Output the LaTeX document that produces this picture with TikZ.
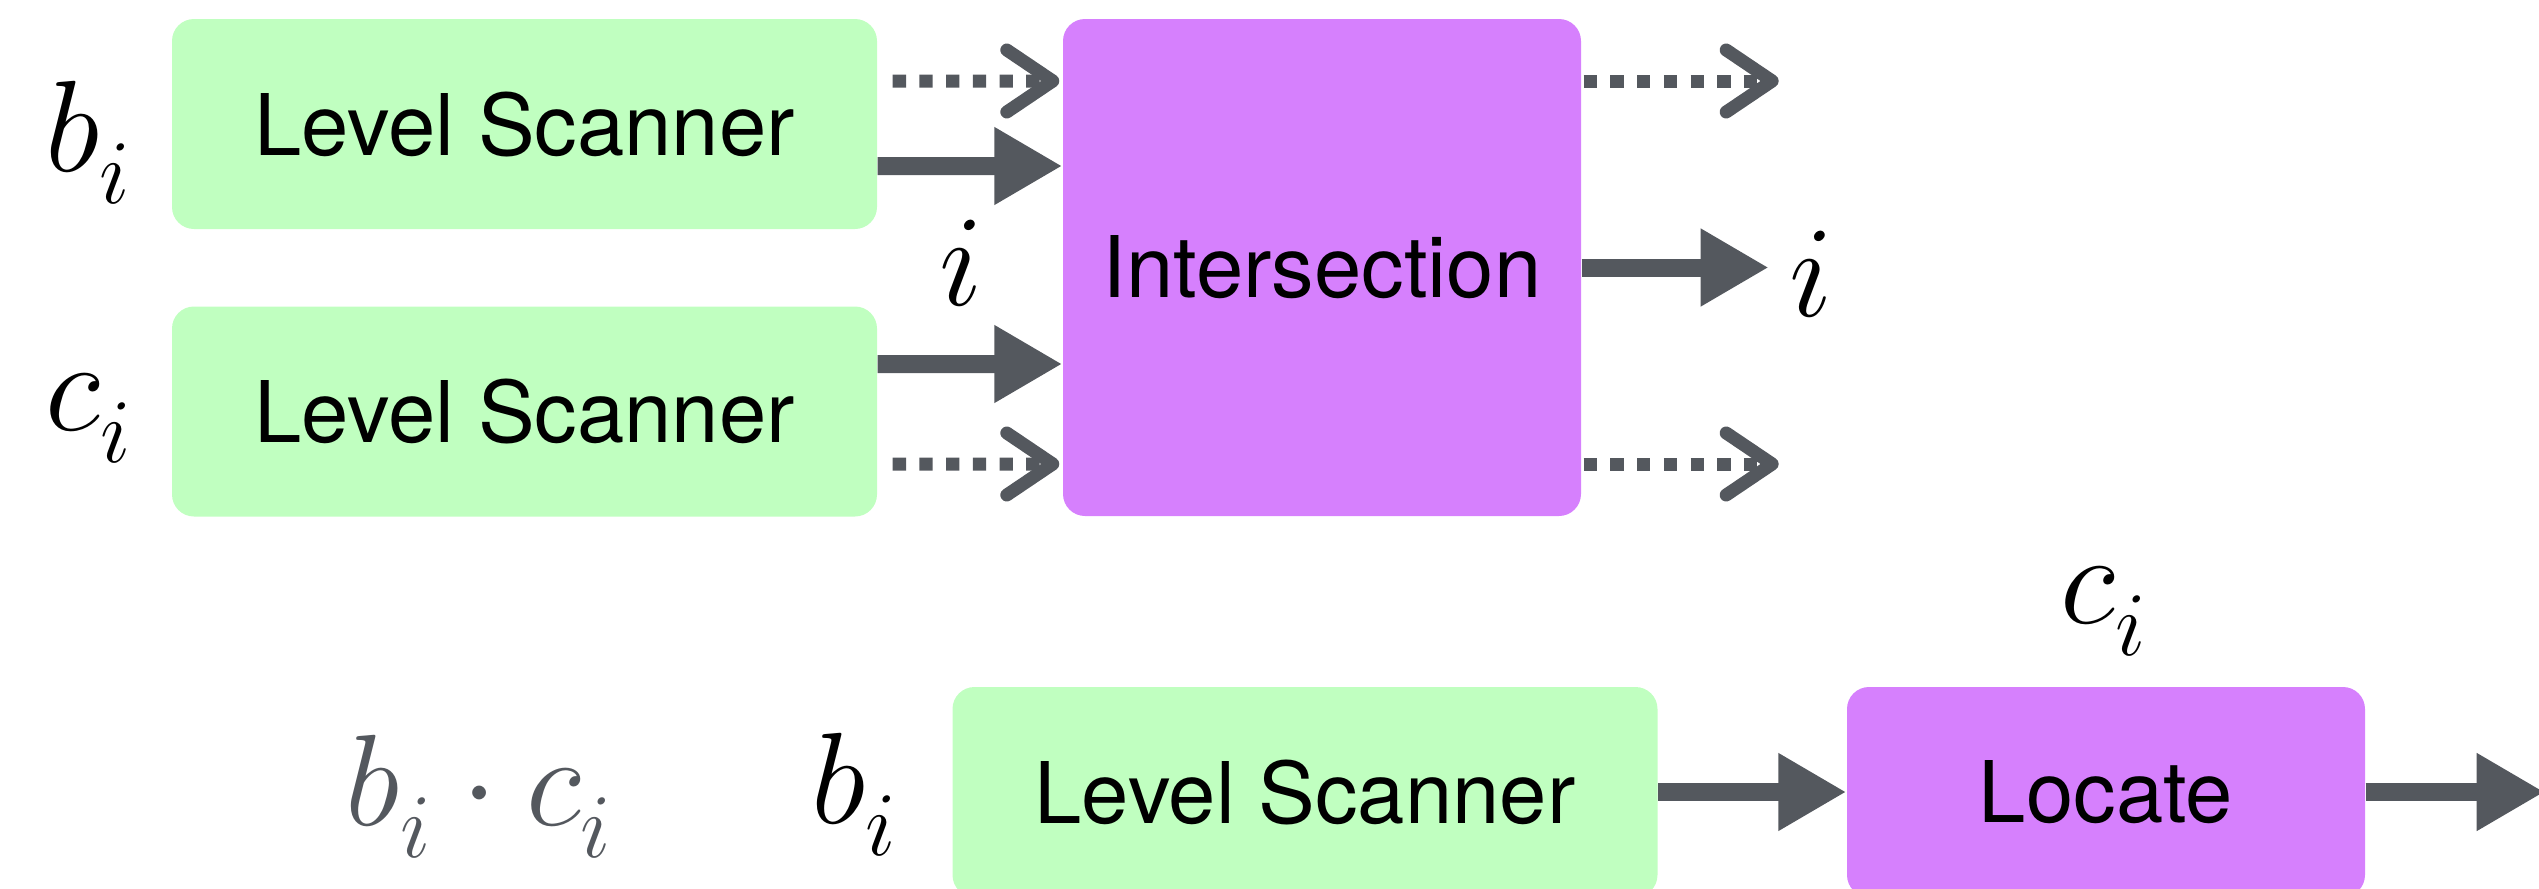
\RequirePackage{fix-cm}
\documentclass[tikz,border=0pt]{standalone}
\usepackage{fontspec}
\setmainfont{TeX Gyre Heros}
\usetikzlibrary{positioning,arrows.meta}
\definecolor{scangreen}{RGB}{192,255,192}
\definecolor{oppurple}{RGB}{214,128,253}
\definecolor{wiregray}{RGB}{84,88,94}
\newcommand{\lblsize}{\fontsize{37}{44}\selectfont}
\newcommand{\dn}[1]{_{\lower1.3mm\hbox{$\scriptstyle #1$}}}
\tikzset{
  block/.style={rounded corners=2.2mm, inner sep=0pt, minimum height=2.1cm, font=\fontsize{24.2}{29}\selectfont},
  scanner/.style={block, fill=scangreen, minimum width=7.05cm},
  op/.style={block, fill=oppurple, minimum width=5.18cm},
  flow/.style={wiregray, line width=1.8mm, -{Triangle[length=6.8mm,width=7.3mm]}},
  side/.style={wiregray, line width=1.3mm, dash pattern=on 1.33mm off 1.34mm, -{Straight Barb[length=4.6mm,width=6.2mm,round]}},
  var/.style={font=\lblsize, inner sep=0pt, anchor=base}
}

\begin{document}
\begin{tikzpicture}
\useasboundingbox (0,0) rectangle (25.39,8.88);

\node[scanner] (scanB) at (5.245,7.64) {Level Scanner};
\node[scanner] (scanC) at (5.245,4.765) {Level Scanner};
\node[op, minimum height=4.97cm] (inter) at (13.22,6.205) {Intersection};
\node[var] (lblB) at (0.89,7.17) {$b\dn{i}$};
\node[var] (lblC) at (0.89,4.58) {$c\dn{i}$};
\node[var] (lblMid) at (9.61,5.83) {$i$};
\node[var] (lblOut) at (18.11,5.72) {$i$};

\draw[side] ([xshift=1.5mm,yshift=4.3mm]scanB.east) -- ([xshift=-0.3mm,yshift=18.65mm]inter.west);
\draw[flow] ([yshift=-4.2mm]scanB.east) -- ([yshift=10.15mm]inter.west);
\draw[flow] ([yshift=4.75mm]scanC.east) -- ([yshift=-9.65mm]inter.west);
\draw[side] ([xshift=1.5mm,yshift=-5.25mm]scanC.east) -- ([xshift=-0.3mm,yshift=-19.65mm]inter.west);

\draw[side] ([xshift=0.2mm,yshift=18.65mm]inter.east) -- ([xshift=19.7mm,yshift=18.65mm]inter.east);
\draw[flow] (inter.east) -- ([xshift=18.7mm]inter.east);
\draw[side] ([xshift=0.2mm,yshift=-19.65mm]inter.east) -- ([xshift=19.7mm,yshift=-19.65mm]inter.east);

% bottom row
\node[var, wiregray] (prod) at (4.795,0.63) {$b\dn{i}\cdot c\dn{i}$};
\node[var] (lblB2) at (8.545,0.65) {$b\dn{i}$};
\node[scanner] (scanD) at (13.05,0.96) {Level Scanner};
\node[op] (locate) at (21.06,0.96) {Locate};
\node[var] (lblC2) at (21.04,2.65) {$c\dn{i}$};

\draw[flow] (scanD) -- (locate);
\draw[flow] (locate.east) -- ([xshift=17.9mm]locate.east);
\end{tikzpicture}
\end{document}
